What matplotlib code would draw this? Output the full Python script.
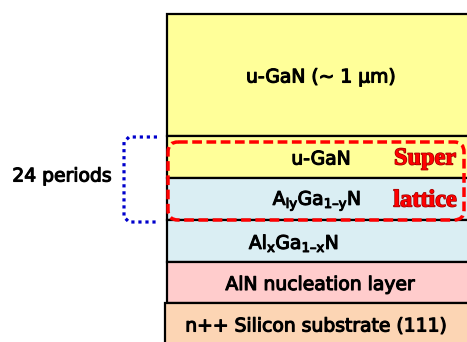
import matplotlib.pyplot as plt
from matplotlib.patches import Rectangle, FancyBboxPatch
import matplotlib.patheffects as pe

# layer stack, top to bottom (pixel rows of the drawing)
layer_labels = ['u-GaN (~ 1 \u00b5m)', 'u-GaN', 'A$_\\mathregular{ly}$Ga$_\\mathregular{1\u2013y}$N',
                'Al$_\\mathregular{x}$Ga$_\\mathregular{1\u2013x}$N', 'AlN nucleation layer',
                'n++ Silicon substrate (111)']
layer_top = [14, 136, 178, 220, 262, 303]
layer_bottom = [136, 178, 220, 262, 303, 345]
layer_colors = ['#ffff99', '#ffff99', '#daeef3', '#daeef3', '#ffcccc', '#fcd5b4']
label_x = [321, 321, 317, 294, 320, 316]
periods_label = '24 periods'
sl_words = ['Super', 'lattice']

fig = plt.figure(figsize=(4.67, 3.42), dpi=100)
ax = fig.add_axes([0, 0, 1, 1])
ax.set_xlim(0, 467)
ax.set_ylim(342, 0)
ax.axis('off')

fatten = [pe.withStroke(linewidth=0.8, foreground='black')]
for i, lab in enumerate(layer_labels):
    left = 165 if i == len(layer_labels) - 1 else 167
    ax.add_patch(Rectangle((left, layer_top[i]), 330, layer_bottom[i] - layer_top[i],
                           facecolor=layer_colors[i], edgecolor='black', lw=1.6))
    ax.text(label_x[i], (layer_top[i] + layer_bottom[i]) / 2 + 2, lab, ha='center', va='center',
            fontsize=13.5, family='DejaVu Sans', color='black', path_effects=fatten)

# red dashed superlattice box
ax.add_patch(FancyBboxPatch((168, 142), 296, 78, boxstyle='round,pad=0,rounding_size=10',
                            facecolor='none', edgecolor='#ff0000', lw=2.5,
                            linestyle=(0, (2.8, 1.3))))
for j, w in enumerate(sl_words):
    ax.text(425, (layer_top[1 + j] + layer_bottom[1 + j]) / 2 + 2, w, ha='center', va='center',
            fontsize=17.5, fontweight='bold', family='Liberation Serif', color='#ff0000',
            path_effects=[pe.withStroke(linewidth=1.0, foreground='#990000')])

# blue dotted bracket
bx = [157, 129, 124, 124, 129, 157]
by = [137, 137, 142, 217, 222, 222]
ax.plot(bx, by, color='#0000cc', lw=2.3, linestyle=(0, (1, 1.2)), solid_capstyle='butt')
ax.text(62, 176, periods_label, ha='center', va='center', fontsize=13.5,
        family='DejaVu Sans', color='black', path_effects=fatten)

fig.savefig('out.png', dpi=100)
